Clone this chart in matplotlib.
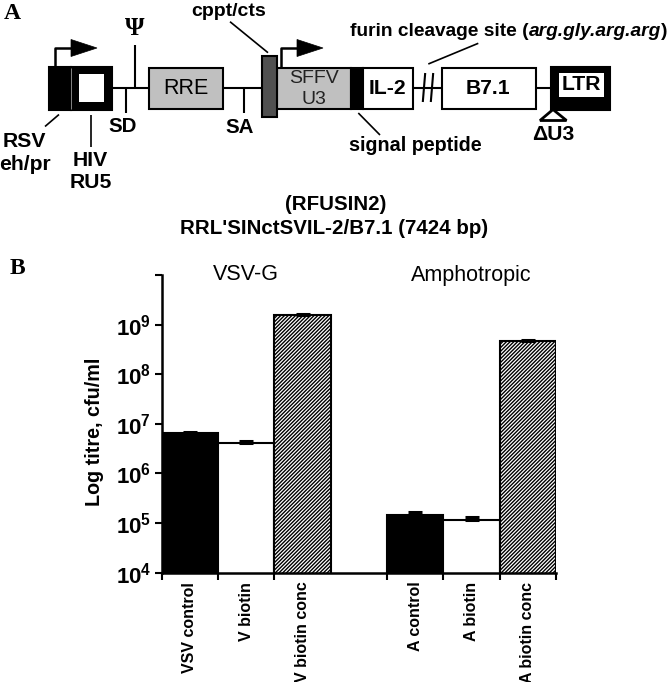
import numpy as np
import matplotlib
matplotlib.use('Agg')
import matplotlib.pyplot as plt
from matplotlib.patches import Rectangle, Polygon
from matplotlib.ticker import FixedLocator, FuncFormatter
import matplotlib.transforms as mtransforms

# ---------------- data (panel B) ----------------
categories = ['VSV control', 'V biotin', 'V biotin conc',
              'A control', 'A biotin', 'A biotin conc']
groups = ['VSV-G', 'Amphotropic']
titres = [6.5e6, 4.1e6, 1.55e9, 1.47e5, 1.17e5, 4.6e8]
titre_upper = [7.0e6, 4.5e6, 1.67e9, 1.67e5, 1.32e5, 4.85e8]
y_exponents = [4, 5, 6, 7, 8, 9, 10]

# ---------------- styles ----------------
plt.rcParams['font.family'] = ['Liberation Sans', 'DejaVu Sans']
plt.rcParams['mathtext.fontset'] = 'custom'
plt.rcParams['mathtext.rm'] = 'Liberation Sans:bold'
plt.rcParams['mathtext.bf'] = 'Liberation Sans:bold'
plt.rcParams['hatch.linewidth'] = 1.0
bar_faces = ['black', 'white', 'white', 'black', 'white', 'white']
bar_hatches = [None, None, '/////////', None, None, '/////////']

FS = 13.8      # long annotation text
FL = 15.2      # box / site labels
LW = 1.5

fig = plt.figure(figsize=(6.68, 6.82), dpi=100)

# ---------------- panel A: vector schematic (pixel space) ----------------
axd = fig.add_axes([0, 0, 1, 1])
axd.set_xlim(0, 668)
axd.set_ylim(682, 0)
axd.axis('off')


def box(x0, x1, y0, y1, fc, lw=LW, z=3, ec='black'):
    axd.add_patch(Rectangle((x0, y0), x1 - x0, y1 - y0, facecolor=fc,
                            edgecolor=ec, linewidth=lw, zorder=z))


def line(xs, ys, lw=LW, z=2, color='black'):
    axd.plot(xs, ys, color=color, lw=lw, solid_capstyle='butt', zorder=z)


def txt(x, y, s, size=FL, weight='bold', **kw):
    return axd.text(x, y, s, fontsize=size, fontweight=weight,
                    ha=kw.pop('ha', 'center'), va=kw.pop('va', 'center'), **kw)


ybb = 88
# backbone segments
for xa, xb in [(112, 149), (223, 262), (413, 442), (536, 551)]:
    line([xa, xb], [ybb, ybb])

# RSV enhancer/promoter
box(48.5, 70.5, 66.5, 110, 'black')
# HIV RU5 (thick-bordered box)
box(71, 112, 66.5, 110, 'black')
box(79, 104, 74, 102, 'white', lw=0, z=4)
line([70.8, 70.8], [67.5, 109], lw=0.6, z=5, color='#9a9a9a')
# RRE
box(149, 223, 67.5, 108.5, '#c0c0c0')
txt(186, 88.5, 'RRE', weight='normal', size=15.5)
# cppt/cts
box(262, 276.5, 56, 116.5, '#505050', z=5)
# SFFV U3
box(276.5, 350.5, 67.5, 108.5, '#c0c0c0')
txt(313.5, 78.5, 'SFFV', weight='normal', color='#222222', size=14)
txt(313.5, 99.5, 'U3', weight='normal', color='#222222', size=14)
# signal peptide
box(350.5, 363, 67.5, 108.5, 'black')
# IL-2
box(363, 413, 67.5, 108.5, 'white')
txt(387.5, 88.5, 'IL-2')
# furin hash marks
line([422.8, 425.2], [102, 73])
line([430.8, 433.2], [102, 73])
# B7.1
box(442, 536, 67.5, 108.5, 'white')
txt(488, 88.5, 'B7.1')
# LTR
box(551, 610, 66.5, 110, 'black')
box(558.5, 604, 72.5, 97, 'white', lw=0, z=4)
txt(581, 85, 'LTR', zorder=6)
# delta U3 triangle
axd.add_patch(Polygon([(553, 109.5), (540, 120.5), (566.5, 120.5)], closed=True,
                      facecolor='white', edgecolor='black', lw=2.0, zorder=6))
txt(553, 135, '\u0394U3')

# promoter arrows
for xv, xh, xt in [(55, 72, 97), (281, 298, 323)]:
    line([xv, xv, xh], [66.5, 48, 48], lw=1.8)
    axd.add_patch(Polygon([(xh - 1, 39.5), (xh - 1, 56.5), (xt, 48)], closed=True,
                          facecolor='black', edgecolor='black', lw=0.5, zorder=3))

# SD, psi, SA ticks
line([126, 126], [ybb, 113])
line([134.5, 134.5], [ybb, 45])
line([243.5, 243.5], [ybb, 113])
txt(134.5, 28.5, '\u03a8', family='Liberation Serif', size=18)
txt(122.5, 126, 'SD', size=14.8)
txt(240, 127.5, 'SA', size=14.8)

# leader lines
line([45, 59], [126.5, 114.5], lw=1.2)
line([90.7, 90.7], [114.5, 146.5], lw=1.2)
line([230, 268], [21.7, 52.7], lw=1.2)
line([358.3, 380], [113, 135], lw=1.2)
line([428.3, 478.3], [64, 43.3], lw=1.2)

# labels
txt(24.5, 141.5, 'RSV')
txt(24.5, 165, 'eh/pr')
txt(90.5, 161, 'HIV')
txt(90.5, 183, 'RU5')
txt(229, 11, 'cppt/cts', size=14)
txt(415, 145.5, 'signal peptide', size=14.2)
t1 = txt(350, 31.5, 'furin cleavage site (', ha='left', size=FS)
t2 = axd.annotate('arg.gly.arg.arg', xy=(1, 0), xycoords=t1, ha='left', va='bottom',
                  fontsize=FS, fontweight='bold', fontstyle='italic')
axd.annotate(')', xy=(1, 0), xycoords=t2, ha='left', va='bottom',
             fontsize=FS, fontweight='bold')
txt(336, 205, '(RFUSIN2)', size=14.8)
txt(334, 228, "RRL'SINctSVIL-2/B7.1 (7424 bp)", size=14.8)

# panel letters
txt(12, 13.5, 'A', family='Liberation Serif', size=17)
txt(17, 269, 'B', family='Liberation Serif', size=17)

# ---------------- panel B: bar chart ----------------
L, R, T, B = 161.7, 556.0, 275.0, 572.7
ax = fig.add_axes([L / 668, 1 - B / 682, (R - L) / 668, (B - T) / 682])
ax.set_yscale('log')
idx = np.arange(len(categories))
pos = idx + idx // 3

for p, v, fc, h in zip(pos, titres, bar_faces, bar_hatches):
    ax.bar(p, v, width=1.0, color=fc, edgecolor='black', linewidth=LW,
           hatch=h, zorder=2)
err_up = np.array(titre_upper) - np.array(titres)
ax.errorbar(pos, titres, yerr=[np.zeros(len(titres)), err_up], fmt='none',
            ecolor='black', elinewidth=1.5, capsize=5, capthick=2.2, zorder=3)

ax.set_xlim(-0.5, pos[-1] + 0.5)
ax.set_ylim(10.0 ** y_exponents[0], 10.0 ** y_exponents[-1])

ax.xaxis.set_major_locator(FixedLocator(pos))
ax.set_xticklabels(categories, rotation=90, fontsize=11.5, fontweight='bold',
                   va='top', ha='center')
edges = np.concatenate([pos - 0.5, [pos[-1] + 0.5]])
ax.xaxis.set_minor_locator(FixedLocator(edges))
ax.tick_params(axis='x', which='major', length=0, pad=6.5)
ax.tick_params(axis='x', which='minor', length=5, width=LW, direction='out')

ax.yaxis.set_major_locator(FixedLocator([10.0 ** e for e in y_exponents]))
ax.yaxis.set_minor_locator(FixedLocator([]))
ax.yaxis.set_major_formatter(FuncFormatter(
    lambda v, _: '' if v >= 10.0 ** y_exponents[-1] else r'$\mathbf{10^{%d}}$' % round(np.log10(v))))
ax.tick_params(axis='y', which='major', length=5, width=LW, pad=2.5, labelsize=16)

for s in ['top', 'right']:
    ax.spines[s].set_visible(False)
for s in ['left', 'bottom']:
    ax.spines[s].set_linewidth(1.8)

ax.set_ylabel('Log titre, cfu/ml', fontsize=14.2, fontweight='bold')
ax.yaxis.set_label_coords(-0.146, 0.473)

trans = mtransforms.blended_transform_factory(ax.transData, ax.transAxes)
for g, gi in zip(groups, [1, 5]):
    ax.text(gi, 1.0, g, transform=trans, ha='center', va='center', fontsize=15.5)

fig.savefig('out.png', dpi=100)
